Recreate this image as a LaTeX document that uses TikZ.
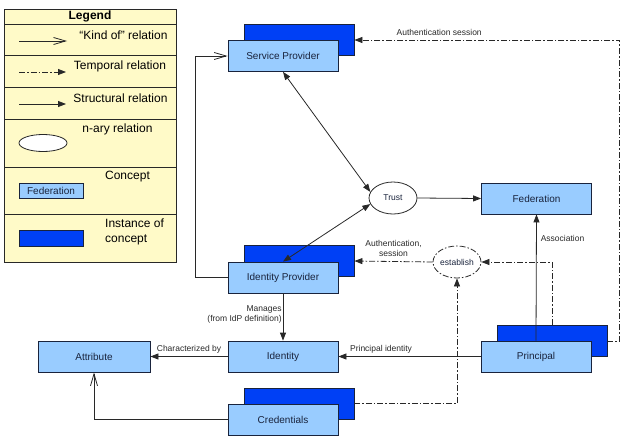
\documentclass[tikz,border=0pt]{standalone}
\usepackage{fontspec}
\setmainfont{Liberation Sans}
\usetikzlibrary{arrows.meta,shapes.geometric}
\definecolor{cLight}{RGB}{153,204,255}
\definecolor{cDark}{RGB}{0,64,245}
\definecolor{cLeg}{RGB}{255,250,200}
\definecolor{cLine}{RGB}{40,40,40}
\definecolor{cText}{RGB}{25,35,60}
\begin{document}
\begin{tikzpicture}[x=1pt,y=-1pt,
 concept/.style={draw=cText, line width=0.8pt, fill=cLight, minimum width=110pt, minimum height=31pt, inner sep=0pt, font=\fontsize{10}{12}\selectfont, text=cText},
 instance/.style={draw=cText, line width=0.8pt, fill=cDark, minimum width=110pt, minimum height=31pt, inner sep=0pt},
 rel/.style={ellipse, draw=cLine, line width=0.8pt, fill=white, minimum width=48pt, minimum height=32pt, inner sep=0pt, font=\fontsize{8.5}{10}\selectfont, text=cText},
 lbl/.style={font=\fontsize{8.5}{10}\selectfont, text=cLine, inner sep=1pt},
 struct/.style={draw=cLine, line width=0.8pt, -{Triangle[length=8pt,width=6pt]}},
 kindof/.style={draw=cLine, line width=0.8pt, -{Straight Barb[length=12pt,width=7pt]}},
 dashdot/.style={dash pattern=on 6pt off 2pt on 1.5pt off 2pt},
 temporal/.style={draw=cLine, line width=0.8pt, dashdot, -{Triangle[length=8pt,width=6pt]}},
 legtext/.style={font=\fontsize{12}{15}\selectfont, text=black, inner sep=0pt},
]
\useasboundingbox (0,0) rectangle (631,436);

% ---------------- Legend ----------------
\draw[draw=cLine, fill=cLeg, line width=0.8pt] (4,9) rectangle (176,262);
\foreach \yy in {24,55,87,119,167,214} \draw[cLine, line width=0.8pt] (4,\yy) -- (176,\yy);
\node[font=\bfseries\fontsize{12}{14}\selectfont] (legT) at (90,16.5) {Legend};
\coordinate (k1) at (19,41); \coordinate (k2) at (67,41);
\draw[kindof] (k1) -- (k2);
\coordinate (tp1) at (19,72); \coordinate (tp2) at (66,72);
\draw[temporal] (tp1) -- (tp2);
\coordinate (s1) at (19,104); \coordinate (s2) at (66,104);
\draw[struct] (s1) -- (s2);
\node[ellipse, draw=cLine, line width=0.8pt, fill=white, minimum width=48pt, minimum height=17pt, inner sep=0pt] (legE) at (43,143) {};
\node[concept, minimum width=64pt, minimum height=15pt] (legC) at (51,190.5) {Federation};
\node[instance, minimum width=64pt, minimum height=16pt] (legI) at (51,238) {};
\node[legtext] (t1) at (123.5,35) {“Kind of” relation};
\node[legtext] (t2) at (120,66) {Temporal relation};
\node[legtext] (t3) at (120.5,98) {Structural relation};
\node[legtext] (t4) at (117.5,129) {n-ary relation};
\node[legtext] (t5) at (127.5,177) {Concept};
\node[legtext, align=left, anchor=west] (t6) at (105,231.5) {Instance of\\concept};

% ---------------- Concepts ----------------
\node[instance] (spb) at (299,40) {};
\node[concept] (sp) at (283,56) {Service Provider};
\node[instance] (idpb) at (299,261) {};
\node[concept] (idp) at (283,277.5) {Identity Provider};
\node[concept] (fed) at (536.5,198.5) {Federation};
\node[concept, minimum width=112pt] (attr) at (94,356.5) {Attribute};
\node[concept] (ident) at (283,356.5) {Identity};
\node[instance] (prb) at (552,341) {};
\node[concept] (pr) at (536,356.5) {Principal};
\node[instance] (crb) at (299,403.5) {};
\node[concept] (cr) at (283,419.5) {Credentials};

\node[rel] (trust) at (393,198) {Trust};
\node[rel, draw=none] (est) at (457,262) {establish};
\draw[cLine, line width=0.8pt, dashdot] (est.center) ellipse [x radius=24pt, y radius=16pt];

% ---------------- Connectors ----------------
\draw[struct, {Triangle[length=8pt,width=6pt]}-{Triangle[length=8pt,width=6pt]}] (sp.south) -- (trust.165);
\draw[struct, {Triangle[length=8pt,width=6pt]}-{Triangle[length=8pt,width=6pt]}] (trust.195) -- (idp.north);
\draw[struct] (trust.east) -- (fed.west);
\draw[kindof] (idp.west) -- ++(-32,0) |- (sp.west);
\draw[struct] (idp.south) -- node[lbl, left, align=right, pos=0.45] (lm) {Manages\\(from IdP definition)} (ident.north);
\draw[struct] (ident.west) -- node[lbl, above=2pt] (lc) {Characterized by} (attr.east);
\draw[struct] (pr.west) -- node[lbl, above=2pt, pos=0.7] (lpi) {Principal identity} (ident.east);
\draw[kindof] (cr.west) -| (attr.south);
\draw[struct] (pr.north) -- node[lbl, right=3pt, pos=0.81] (la) {Association} (fed.south);
\draw[temporal] (prb.north) |- (est.east);
\draw[temporal] (est.west) -- node[lbl, above=4pt, align=center] (lau) {Authentication,\\session} (idpb.east);
\draw[temporal] (crb.east) -| (est.south);
\draw[temporal] (prb.east) -- ++(12,0) |- node[lbl, above=3pt, pos=0.84] (las) {Authentication session} (spb.east);
\end{tikzpicture}
\end{document}
